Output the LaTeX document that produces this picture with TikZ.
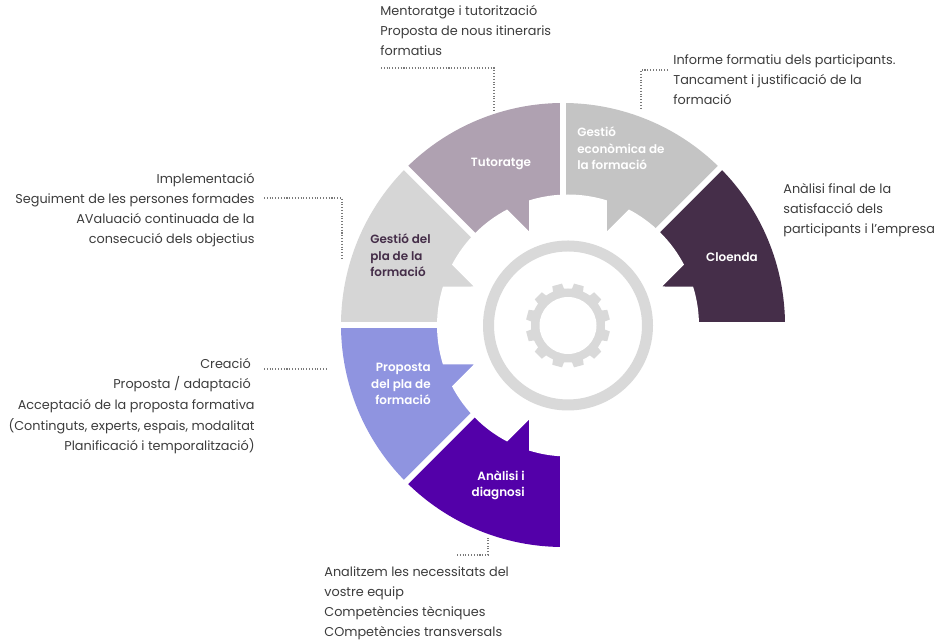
\documentclass[tikz,border=0pt]{standalone}
\usepackage{fontspec}
\setmainfont{Poppins}
\newfontfamily\segfont{Poppins SemiBold}
\usepackage{tikz}
\usetikzlibrary{calc}
\usetikzlibrary{positioning}

\definecolor{tutcol}{HTML}{AFA1B1}
\definecolor{ecocol}{HTML}{C4C4C4}
\definecolor{cloecol}{HTML}{452E49}
\definecolor{placol}{HTML}{D6D6D6}
\definecolor{propcol}{HTML}{8F94E0}
\definecolor{analcol}{HTML}{5300A9}
\definecolor{gearcol}{HTML}{D9D9D9}
\definecolor{textcol}{HTML}{3C3C3C}
\definecolor{leadcol}{HTML}{7A7A7A}

\begin{document}
\begin{tikzpicture}[x=0.2mm, y=0.2mm,
    info/.style={inner sep=0pt, textcol, font=\fontsize{7.3}{11.5}\selectfont},
    seglabel/.style={inner sep=0pt, white, font=\fontsize{6.8}{9.4}\selectfont\segfont},
    leader/.style={leadcol, line width=0.6pt, dash pattern=on 0.6pt off 1pt}]
  \useasboundingbox (0, 0) rectangle (939, 642);
  \coordinate (S) at (563, 317);
  \coordinate (G) at (568, 316.5);

  % ring of six stages
  \foreach \a/\c in {0/cloecol, 45/ecocol, 90/tutcol, 135/placol, 180/propcol, 225/analcol}
    \fill[\c] (S) -- ++(\a:222) arc[start angle=\a, end angle=\a+45, radius=222] -- cycle;
  \foreach \a in {0, 45, ..., 270} \draw[white, line width=1.2mm] (S) -- ++(\a:232);

  % white cog cut out of the ring
  \fill[white] ($(G)+(-22.5:101.9)$) \foreach \k in {0, ..., 7} {
      -- ($(G)+(\k*45-17.3:131)$) arc[start angle=\k*45-17.3, end angle=\k*45+17.3, radius=131]
      -- ($(G)+(\k*45+22.5:101.9)$) } -- cycle;

  % grey ring and gear icon
  \draw[gearcol, line width=2.2mm] (G) circle[radius=79.5];
  \fill[gearcol] (G) circle[radius=37];
  \foreach \k in {0, ..., 11}
    \fill[gearcol, rotate around={\k*30+15:(G)}] ($(G)+(30,-6.5)$) -- ($(G)+(42,-5)$) -- ($(G)+(42,5)$) -- ($(G)+(30,6.5)$) -- cycle;
  \fill[white] (G) circle[radius=28.5];

  % stage names
  \node[seglabel] at (501, 478) (tut) {Tutoratge};
  \node[seglabel, anchor=base west, align=left] at (577, 472) (eco) {Gestió\\econòmica de\\la formació};
  \node[seglabel] at (732, 385) (cloe) {Cloenda};
  \node[seglabel, anchor=base west, align=left, cloecol] at (370, 365) (pla) {Gestió del\\pla de la\\formació};
  \node[seglabel, anchor=base east, align=right] at (431, 237) (prop) {Proposta\\del pla de\\formació};
  \node[seglabel, anchor=base east, align=right] at (525, 145) (anal) {Anàlisi i\\diagnosi};

  % descriptions
  \node[info, anchor=base west, align=left] at (380, 586) (tutinfo)
    {Mentoratge i tutorització\\Proposta de nous itineraris\\formatius};
  \node[info, anchor=base west, align=left] at (673, 537) (ecoinfo)
    {Informe formatiu dels participants.\\Tancament i justificació de la\\formació};
  \node[info, anchor=base west, align=left] at (783, 408) (cloeinfo)
    {Anàlisi final de la\\satisfacció dels\\participants i l’empresa};
  \node[info, anchor=base east, align=right] at (255, 398) (plainfo)
    {Implementació\\Seguiment de les persones formades\\AValuació continuada de la\\consecució dels objectius};
  \node[info, anchor=base east, align=right, font=\fontsize{7.3}{11.8}\selectfont] at (255, 191) (propinfo)
    {Creació\kern0.3em\\Proposta / adaptació\kern0.3em\\Acceptació de la proposta formativa\\(Continguts, experts, espais, modalitat\\Planificació i temporalització)};
  \node[info, anchor=base west, align=left] at (324, 5) (analinfo)
    {Analitzem les necessitats del\\vostre equip\\Competències tècniques\\COmpetències transversals};

  % dotted leaders
  \coordinate (tutA) at (381, 574);   \coordinate (tutB) at (494, 532);
  \coordinate (ecoA) at (668, 572);   \coordinate (ecoB) at (641, 532);
  \coordinate (plaA) at (264, 444);   \coordinate (plaB) at (342, 382);
  \coordinate (propA) at (264, 273);  \coordinate (propB) at (327, 273);
  \coordinate (analA) at (457, 87);   \coordinate (analB) at (488, 104);
  \draw[leader] (tutA) -| (tutB);
  \draw[leader] (ecoA) -| (ecoB);
  \draw[leader] (plaA) -| (plaB);
  \draw[leader] (propA) -- (propB);
  \draw[leader] (analA) -| (analB);
\end{tikzpicture}
\end{document}
